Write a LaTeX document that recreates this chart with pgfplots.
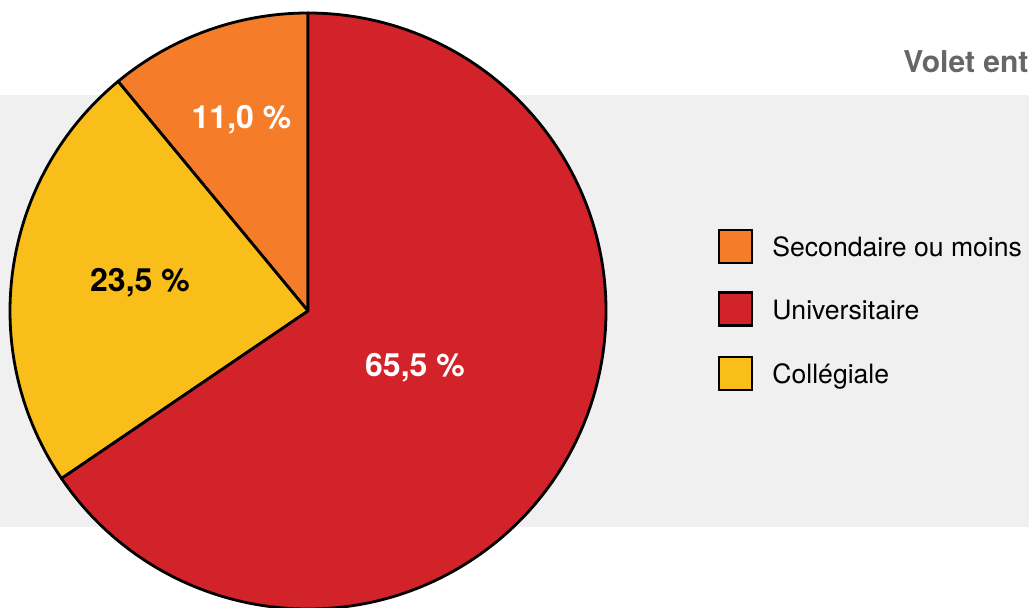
\documentclass[border=0pt]{standalone}
\usepackage{pgfplots}
\usepackage{pgfplotstable}
\pgfplotsset{compat=1.18}
\usepackage{fontspec}
\setmainfont{TeX Gyre Heros}

\definecolor{cOrange}{RGB}{245,125,42}
\definecolor{cRed}{RGB}{210,35,42}
\definecolor{cYellow}{RGB}{249,190,26}
\definecolor{cBack}{RGB}{240,240,240}
\definecolor{cTitle}{RGB}{102,102,102}

% parts of the pie, counter-clockwise from the top
\pgfplotstableread{
cat pct
sec 11.0
col 23.5
uni 65.5
}\piedata

\begin{document}
\begin{tikzpicture}
\pgfplotstablegetelem{0}{pct}\of\piedata \let\pA\pgfplotsretval
\pgfplotstablegetelem{1}{pct}\of\piedata \let\pB\pgfplotsretval
\pgfplotstablegetelem{2}{pct}\of\piedata \let\pC\pgfplotsretval
\pgfmathsetmacro\aA{90}
\pgfmathsetmacro\aB{\aA+3.6*\pA}
\pgfmathsetmacro\aC{\aB+3.6*\pB}
\pgfmathsetmacro\aD{\aC+3.6*\pC}
\def\R{149pt}
\pgfkeys{/pgf/number format/.cd,fixed,fixed zerofill,precision=1,use comma,assume math mode=true}

\useasboundingbox (0,0) rectangle (514.5pt,303.5pt);
\clip (0,0) rectangle (514.5pt,303.5pt);
\begin{axis}[
  at={(0,0)}, anchor=origin,
  x=0.5pt, y=0.5pt,
  xmin=0, xmax=1029, ymin=0, ymax=607,
  hide axis, clip=false,
]
\fill[cBack] (axis cs:0,80) rectangle (axis cs:1029,512);
\node[anchor=base west, inner sep=0pt, text=cTitle, font=\fontsize{15}{17}\selectfont\bfseries]
  at (axis cs:903,535) {Volet entreprises};

\begin{scope}[line width=1.4pt, line join=round]
\filldraw[fill=cOrange] (axis cs:308,296) -- ++(\aA:\R) arc[start angle=\aA, end angle=\aB, radius=\R] -- cycle;
\filldraw[fill=cYellow] (axis cs:308,296) -- ++(\aB:\R) arc[start angle=\aB, end angle=\aC, radius=\R] -- cycle;
\filldraw[fill=cRed] (axis cs:308,296) -- ++(\aC:\R) arc[start angle=\aC, end angle=\aD, radius=\R] -- cycle;
\end{scope}

\begin{scope}[font=\fontsize{16}{18}\selectfont\bfseries]
\node[text=white] at (axis cs:241.5,487.5) {\pgfmathprintnumber{\pA}~\%};
\node[text=black] at (axis cs:140,324.5) {\pgfmathprintnumber{\pB}~\%};
\node[text=white] at (axis cs:415,239) {\pgfmathprintnumber{\pC}~\%};
\end{scope}

% legend
\begin{scope}[line width=1.3pt]
\filldraw[fill=cOrange] (axis cs:719,344) rectangle (axis cs:752,377);
\filldraw[fill=cRed] (axis cs:719,281.5) rectangle (axis cs:752,314.5);
\filldraw[fill=cYellow] (axis cs:719,217) rectangle (axis cs:752,250);
\end{scope}
\begin{scope}[font=\fontsize{13.3}{15}\selectfont]
\node[anchor=base west, inner sep=0pt] at (axis cs:772,351) {Secondaire ou moins};
\node[anchor=base west, inner sep=0pt] at (axis cs:772,288) {Universitaire};
\node[anchor=base west, inner sep=0pt] at (axis cs:772,223.5) {Collégiale};
\end{scope}
\end{axis}
\end{tikzpicture}
\end{document}
